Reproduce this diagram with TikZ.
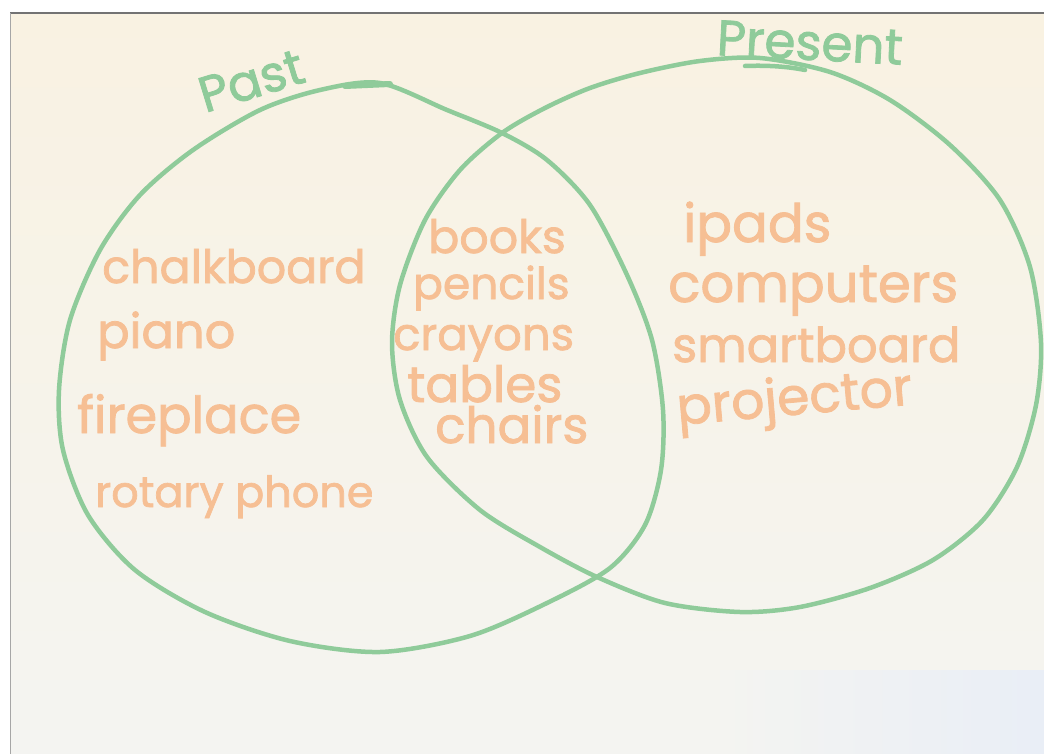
\documentclass[tikz,border=0pt]{standalone}
\usepackage{fontspec}
\setmainfont{Poppins}
\newfontfamily\penfont{Poppins}[FakeBold=1.6]
\pgfdeclarelayer{bg}
\pgfsetlayers{bg,main}
\definecolor{marker}{HTML}{F6BF94}
\definecolor{felt}{HTML}{8FCB9A}
\definecolor{paper}{HTML}{F9F2E2}
\definecolor{paperlow}{HTML}{F4F4F1}
\definecolor{glare}{HTML}{E9EEF6}
\tikzset{
    every node/.style={inner sep=0pt, anchor=base west},
    item/.style={text=marker, font=\penfont\fontsize{#1}{#1}\selectfont},
    item/.default=46,
    title/.style={text=felt, font=\penfont\fontsize{50}{54}\selectfont},
    ring/.style={draw=felt, line width=4.5pt, line join=round, line cap=round}
}

\begin{document}
\begin{tikzpicture}[x=1pt,y=-1pt]
        \useasboundingbox (0,0) rectangle (1044,754);
        % past items
        \node[item] (l1) at (102,283) {chalkboard};
        \node[item=48] (l2) at (97,348) {piano};
        \node[item=51] (l3) at (77,433) {fireplace};
        \node[item=43] (l4) at (95,507) {rotary phone};
        % both
        \node[item] (m1) at (428,253) {books};
        \node[item=44] (m2) at (413,299) {pencils};
        \node[item=45] (m3) at (393,350) {crayons};
        \node[item=50] (m4) at (407,402) {tables};
        \node[item=50] (m5) at (435,443) {chairs};
        % present items
        \node[item=53] (r1) at (683,242) {ipads};
        \node[item=53] (r2) at (668,302) {computers};
        \node[item=48] (r3) at (672,362) {smartboard};
        \node[item=52, rotate=5] (r4) at (678,425) {projector};
        % titles
        \node[title, rotate=17] (past) at (205,113) {Past};
        \node[title, rotate=-3] (present) at (716,55) {Present};
        \begin{pgfonlayer}{bg}
                % sheet of paper
                \fill[white] (0,0) rectangle (1044,754);
                \shade[top color=paper, bottom color=paperlow] (10,13) rectangle (1044,754);
                \shade[left color=paperlow, right color=glare] (720,670) rectangle (1044,754);
                \draw[black!55, line width=2pt] (10,13) -- (1044,13);
                \draw[black!35, line width=1pt] (10,13) -- (10,754);
                % the two rings
                \draw[ring] plot[smooth cycle] coordinates {
                        (380,83) (447,110) (502,133) (547,160) (590,205) (627,275)
                        (652,340) (663,410) (661,470) (645,525) (610,568) (547,603)
                        (470,636) (380,652) (290,641) (205,612) (135,570) (88,515)
                        (63,450) (59,390) (70,320) (100,250) (140,195) (193,150)
                        (260,110) (320,90)};
                \draw[ring] plot[smooth cycle] coordinates {
                        (502,133) (545,108) (590,88) (640,73) (700,61) (760,58)
                        (830,72) (890,100) (950,145) (1000,200) (1030,267) (1041,343)
                        (1036,405) (1017,467) (983,520) (933,560) (870,588) (800,607)
                        (740,612) (665,603) (597,577) (540,547) (480,510) (427,457)
                        (400,400) (392,343) (400,285) (425,220) (460,170)};
                \draw[ring, line width=6pt] (345,86) -- (390,84);
                \draw[ring] (745,66) .. controls (770,65) and (790,67) .. (805,70);
        \end{pgfonlayer}
\end{tikzpicture}
\end{document}
